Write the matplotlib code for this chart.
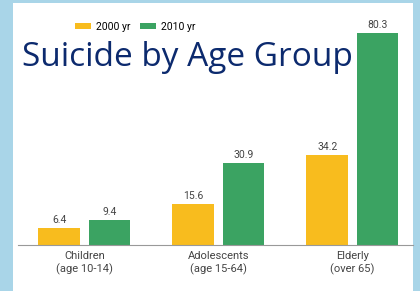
import matplotlib
matplotlib.use("Agg")
import matplotlib.pyplot as plt
import numpy as np
from matplotlib.patches import Rectangle, Patch

groups = ["Children\n(age 10-14)", "Adolescents\n(age 15-64)", "Elderly\n(over 65)"]
years = ["2000 yr", "2010 yr"]
v2000 = [6.4, 15.6, 34.2]
v2010 = [9.4, 30.9, 80.3]

YELLOW = "#f8bc1e"
GREEN = "#3ba362"
NARROW = ["Roboto", "DejaVu Sans"]

fig = plt.figure(figsize=(4.2, 2.91), dpi=100)
fig.patch.set_facecolor("#a9d5e8")
# white slide panel behind everything
fig.patches.append(Rectangle((13 / 420, 0), (413 - 13) / 420, 1 - 3 / 291,
                             transform=fig.transFigure, facecolor="white",
                             edgecolor="none", zorder=-5))

# axes: baseline at y=245 px, top ~ y=33 px for 80.3
ax = fig.add_axes([18 / 420, (291 - 245) / 291, (413 - 18) / 420, 212 / 291 * 88 / 80.3])
ax.set_facecolor("none")
x = np.arange(len(groups))
w = 0.313
off = 0.187
ax.bar(x - off, v2000, width=w, color=YELLOW, zorder=2)
ax.bar(x + off, v2010, width=w, color=GREEN, zorder=2)
ax.set_xlim(-0.496, 2.452)
ax.set_ylim(0, 88)
for xi, a, b in zip(x, v2000, v2010):
    ax.text(xi - off, a + 1.2, f"{a}", ha="center", va="bottom", fontsize=7.5,
            color="#444444", family=NARROW)
    ax.text(xi + off, b + 1.2, f"{b}", ha="center", va="bottom", fontsize=7.5,
            color="#444444", family=NARROW)
for s in ["top", "right", "left"]:
    ax.spines[s].set_visible(False)
ax.spines["bottom"].set_color("#999999")
ax.spines["bottom"].set_linewidth(0.8)
ax.set_yticks([])
ax.set_xticks(x)
ax.set_xticklabels(groups, fontsize=8, color="#444444", family=NARROW, linespacing=1.3)
ax.tick_params(axis="x", length=0, pad=4)

handles = [Patch(facecolor=YELLOW, label=years[0]), Patch(facecolor=GREEN, label=years[1])]
fig.legend(handles=handles, loc="center left", bbox_to_anchor=(66 / 420, 1 - 27 / 291),
           ncol=2, frameon=False, handlelength=1.5, handleheight=0.5,
           columnspacing=0.9, handletextpad=0.5, prop={"family": NARROW, "size": 7.5})

fig.text(22 / 420, 1 - 57 / 291, "Suicide by Age Group", fontsize=24, color="#0c2a6e",
         family=["Open Sans", "DejaVu Sans"], va="center", ha="left")

fig.savefig("out.png", dpi=100)
